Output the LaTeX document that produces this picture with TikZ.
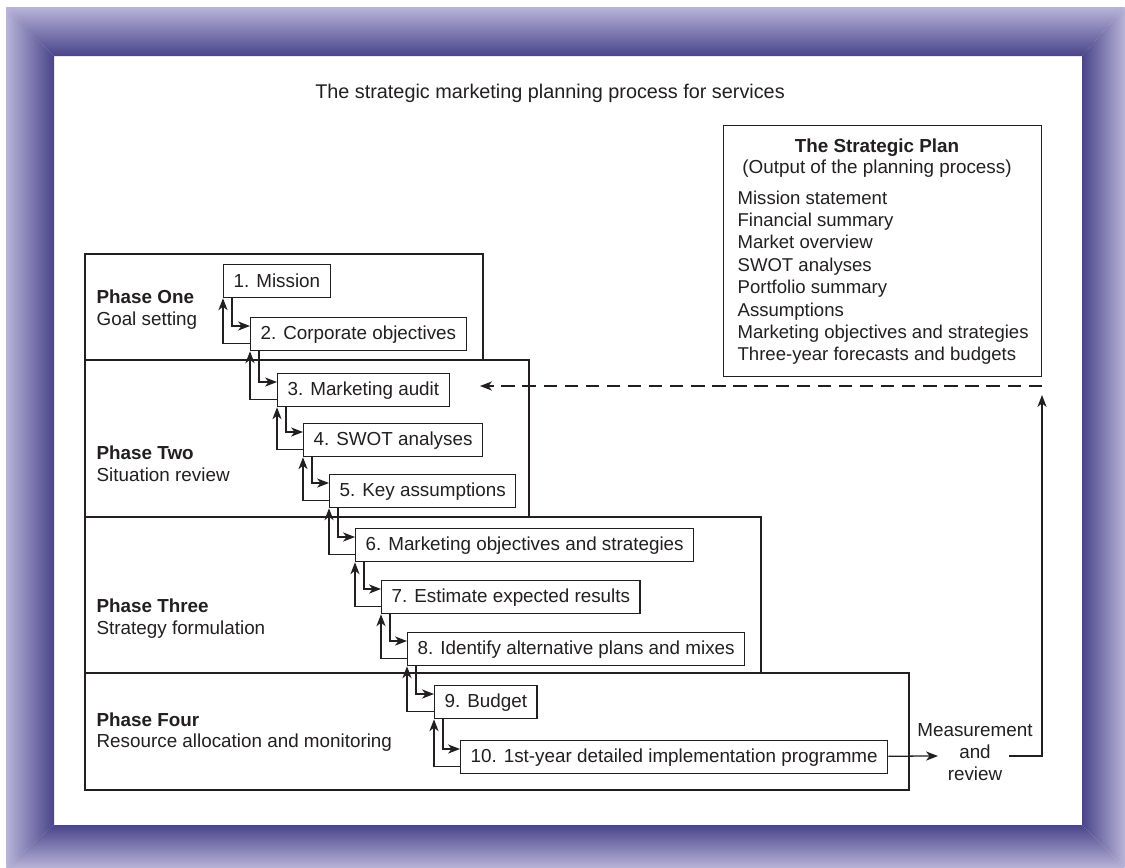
\documentclass[tikz,border=0pt]{standalone}
\usepackage{fontspec}
\setmainfont{Liberation Sans}
\usepackage{xcolor}
\usepackage{tikz}
\usetikzlibrary{arrows.meta,calc}
\definecolor{framelight}{RGB}{184,180,216}
\definecolor{framedark}{RGB}{74,68,138}
\definecolor{ink}{RGB}{35,31,32}
\tikzset{
  stepbox/.style={draw, anchor=north west, minimum height=0.825cm, inner xsep=0.25cm, inner ysep=0pt},
  plaintext/.style={anchor=base west, inner sep=0pt},
  flow/.style={-{Stealth[length=8.5pt,width=6.5pt,inset=2.5pt]}},
}

\begin{document}
\begin{tikzpicture}[x=0.025cm, y=-0.025cm, font=\fontsize{13.4}{15.9}\selectfont, line width=0.9pt, color=ink, text=ink]
\useasboundingbox (0,0) rectangle (1125,868);
\fill[white] (0,0) rectangle (1125,868);
\shade[top color=framelight, bottom color=framedark] (6,7) -- (1125,7) -- (1082,56) -- (54,56) -- cycle;
\shade[left color=framelight, right color=framedark] (6,7) -- (54,56) -- (54,825) -- (6,868) -- cycle;
\shade[left color=framedark, right color=framelight] (1125,7) -- (1082,56) -- (1082,825) -- (1125,868) -- cycle;
\shade[top color=framedark, bottom color=framelight] (54,825) -- (1082,825) -- (1125,868) -- (6,868) -- cycle;

\node[anchor=base] (title) at (550,98) {\fontsize{14.1}{17}\selectfont The strategic marketing planning process for services};

\draw (85,254) rectangle (483,360);
\draw (85,360) rectangle (529,517);
\draw (85,517) rectangle (761,673);
\draw (85,673) rectangle (909,790);

\node[plaintext] (p1) at (96,303) {\textbf{Phase One}};
\node[plaintext] (p1b) at (96,325) {Goal setting};
\node[plaintext] (p2) at (96,459) {\textbf{Phase Two}};
\node[plaintext] (p2b) at (96,481) {Situation review};
\node[plaintext] (p3) at (96,612) {\textbf{Phase Three}};
\node[plaintext] (p3b) at (96,634) {Strategy formulation};
\node[plaintext] (p4) at (96,726) {\textbf{Phase Four}};
\node[plaintext] (p4b) at (96,747) {Resource allocation and monitoring};

\node[stepbox] (s1) at (223,264) {1. Mission};
\node[stepbox] (s2) at (250,317) {2. Corporate objectives};
\node[stepbox] (s3) at (277,373) {3. Marketing audit};
\node[stepbox] (s4) at (303,423) {4. SWOT analyses};
\node[stepbox] (s5) at (329,474) {5. Key assumptions};
\node[stepbox] (s6) at (355,528) {6. Marketing objectives and strategies};
\node[stepbox] (s7) at (381,580) {7. Estimate expected results};
\node[stepbox] (s8) at (407,632) {8. Identify alternative plans and mixes};
\node[stepbox] (s9) at (434,685) {9. Budget};
\node[stepbox] (s10) at (460,740) {10. 1st-year detailed implementation programme};

\foreach \a/\b in {s1/s2,s2/s3,s3/s4,s4/s5,s5/s6,s6/s7,s7/s8,s8/s9,s9/s10} {
  \draw[flow] ($(\a.south west)+(9,0)$) |- ($(\b.north west)+(0,9)$);
  \draw[flow] ($(\b.south west)+(0,-8)$) -| (\a.south west);
}

\node[draw, anchor=north west, minimum width=7.95cm, minimum height=6.275cm] (plan) at (723,125) {};
\node[anchor=base] (plantitle) at (877,152) {\textbf{The Strategic Plan}};
\node[anchor=base] (plansub) at (877,173) {(Output of the planning process)};
\foreach \t [count=\i from 0] in {Mission statement,Financial summary,Market overview,SWOT analyses,Portfolio summary,Assumptions,Marketing objectives and strategies,Three-year forecasts and budgets}
  \node[plaintext, font=\fontsize{13.2}{15.9}\selectfont] (item\i) at (737,204+22.4*\i) {\t};

\node[align=center] (review) at (975,752) {Measurement\\and\\review};
\coordinate (revin) at (938,756);
\coordinate (revout) at (1009,756);
\coordinate (loopend) at (1042,395);
\coordinate (dashstart) at (1042,386);
\coordinate (dashend) at (480,386);
\draw[flow] (s10) -- (revin);
\draw[flow] (revout) -| (loopend);
\draw[flow, dash pattern=on 9.5pt off 5.5pt] (dashstart) -- (dashend);
\end{tikzpicture}
\end{document}
